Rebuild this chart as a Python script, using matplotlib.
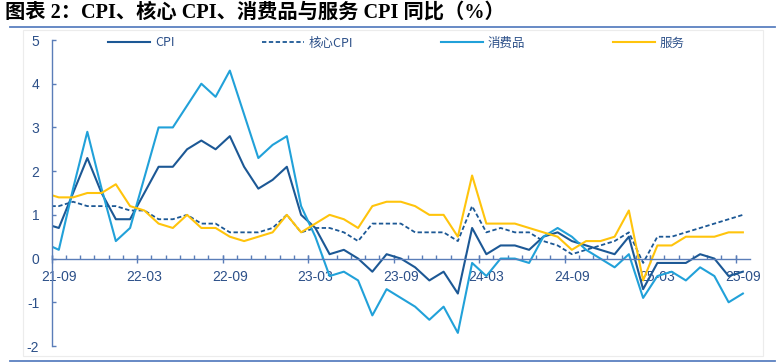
import matplotlib
matplotlib.use('Agg')
import matplotlib.pyplot as plt
from matplotlib.patches import Rectangle
from matplotlib.lines import Line2D
import pandas as pd

# ---- data: monthly, 2021-08 .. 2025-09 (year-on-year %, ) ----
months = [p.strftime('%y-%m') for p in pd.period_range('2021-08', '2025-09', freq='M')]

cpi = [0.8, 0.7, 1.5, 2.3, 1.5,
       0.9, 0.9, 1.5, 2.1, 2.1, 2.5, 2.7, 2.5, 2.8, 2.1, 1.6, 1.8,
       2.1, 1.0, 0.7, 0.1, 0.2, 0.0, -0.3, 0.1, 0.0, -0.2, -0.5, -0.3,
       -0.8, 0.7, 0.1, 0.3, 0.3, 0.2, 0.5, 0.6, 0.4, 0.3, 0.2, 0.1,
       0.5, -0.7, -0.1, -0.1, -0.1, 0.1, 0.0, -0.4, -0.3]

core_cpi = [1.2, 1.2, 1.3, 1.2, 1.2,
            1.2, 1.1, 1.1, 0.9, 0.9, 1.0, 0.8, 0.8, 0.6, 0.6, 0.6, 0.7,
            1.0, 0.6, 0.7, 0.7, 0.6, 0.4, 0.8, 0.8, 0.8, 0.6, 0.6, 0.6,
            0.4, 1.2, 0.6, 0.7, 0.6, 0.6, 0.4, 0.3, 0.1, 0.2, 0.3, 0.4,
            0.6, -0.1, 0.5, 0.5, 0.6, 0.7, 0.8, 0.9, 1.0]

goods = [0.35, 0.2, 1.6, 2.9, 1.6,
         0.4, 0.7, 1.85, 3.0, 3.0, 3.5, 4.0, 3.7, 4.3, 3.3, 2.3, 2.6,
         2.8, 1.2, 0.5, -0.4, -0.3, -0.5, -1.3, -0.7, -0.9, -1.1, -1.4, -1.1,
         -1.7, -0.1, -0.4, 0.0, 0.0, -0.1, 0.5, 0.7, 0.5, 0.2, 0.0, -0.2,
         0.1, -0.9, -0.4, -0.3, -0.5, -0.2, -0.4, -1.0, -0.8]

services = [1.5, 1.4, 1.4, 1.5, 1.5,
            1.7, 1.2, 1.1, 0.8, 0.7, 1.0, 0.7, 0.7, 0.5, 0.4, 0.5, 0.6,
            1.0, 0.6, 0.8, 1.0, 0.9, 0.7, 1.2, 1.3, 1.3, 1.2, 1.0, 1.0,
            0.5, 1.9, 0.8, 0.8, 0.8, 0.7, 0.6, 0.5, 0.2, 0.4, 0.4, 0.5,
            1.1, -0.5, 0.3, 0.3, 0.5, 0.5, 0.5, 0.6, 0.6]

tick_labels = ['21-09', '22-03', '22-09', '23-03', '23-09', '24-03', '24-09', '25-03', '25-09']
series_names = ['CPI', '核心CPI', '消费品', '服务']
y_ticks = [-2, -1, 0, 1, 2, 3, 4, 5]

# ---- style ----
C_CPI = '#1c5895'
C_GOODS = '#21a1d9'
C_SERV = '#ffc40c'
C_AXIS = '#5a7db8'
C_TXT = '#2c5089'
NUM_FONT = ['Liberation Sans Narrow', 'Liberation Sans', 'DejaVu Sans']
CJK_FONT = ['Noto Sans CJK SC', 'DejaVu Sans']

W, H = 784, 364
fig = plt.figure(figsize=(W / 100, H / 100), dpi=100)

# decorations: title, rules, faint frame
fig.text(5 / W, 1 - 13 / H, '图表 2：CPI、核心 CPI、消费品与服务 CPI 同比（%）',
         fontsize=14.6, fontweight='bold', family=['Liberation Serif', 'Noto Sans CJK SC'],
         va='center', ha='left', color='black')
fig.add_artist(Line2D([10 / W, 775 / W], [1 - 27 / H, 1 - 27 / H], color='#5b80c0', lw=1.3,
                      transform=fig.transFigure))
fig.add_artist(Line2D([10 / W, 775 / W], [1 - 361 / H, 1 - 361 / H], color='#5b80c0', lw=1.3,
                      transform=fig.transFigure))
fig.add_artist(Rectangle((23 / W, 1 - 356 / H), (763 - 23) / W, (356 - 30) / H, fill=False,
                         ec='#ececec', lw=0.8, transform=fig.transFigure))

ax = fig.add_axes([51.7 / W, 1 - 346 / H, (750 - 51.7) / W, (346 - 40) / H])
x = list(range(len(months)))

l1, = ax.plot(x, cpi, color=C_CPI, lw=1.5)
l2, = ax.plot(x, core_cpi, color=C_CPI, lw=1.3, linestyle=(0, (2.4, 1.4)))
l3, = ax.plot(x, goods, color=C_GOODS, lw=1.5)
l4, = ax.plot(x, services, color=C_SERV, lw=1.5)

ax.set_xlim(0.5, len(months) - 0.5)
ax.set_ylim(-2, 5)

for s in ['top', 'right']:
    ax.spines[s].set_visible(False)
ax.spines['bottom'].set_position(('data', 0))
ax.spines['bottom'].set_color(C_AXIS)
ax.spines['left'].set_color(C_AXIS)
ax.spines['bottom'].set_linewidth(1.0)
ax.spines['left'].set_linewidth(1.0)

# y axis
ax.set_yticks(y_ticks)
ax.set_yticklabels([str(v) for v in y_ticks])
ax.tick_params(axis='y', direction='in', length=2.6, width=1.0, color=C_AXIS,
               labelcolor=C_TXT, labelsize=10, pad=9)

# x axis: labels at months, small ticks at month boundaries
label_pos = [months.index(t) for t in tick_labels]
ax.set_xticks(label_pos)
ax.set_xticklabels(tick_labels)
ax.set_xticks([i + 0.5 for i in range(len(months) - 1)], minor=True)
ax.tick_params(axis='x', which='major', length=0, labelcolor=C_TXT, labelsize=10, pad=8)
ax.tick_params(axis='x', which='minor', direction='in', length=2.6, width=1.0, color=C_AXIS)
for lab in ax.get_xticklabels() + ax.get_yticklabels():
    lab.set_family(NUM_FONT)

# longer crossing ticks every 6 months
sec = ax.secondary_xaxis(2 / 7)
sec.set_xticks([p - 0.5 for p in label_pos])
sec.tick_params(axis='x', direction='inout', length=6, width=1.0, color=C_AXIS, labelbottom=False,
                labeltop=False, labelsize=0)
sec.set_xticklabels([])
for s in sec.spines.values():
    s.set_visible(False)

leg = fig.legend([l1, l2, l3, l4], series_names, ncol=4, loc='center left',
                 bbox_to_anchor=(108 / W, 1 - 43 / H), frameon=False, borderaxespad=0,
                 borderpad=0, handlelength=3.36, handletextpad=0.4, columnspacing=7.0,
                 prop={'family': CJK_FONT, 'size': 9})
for t in leg.get_texts():
    t.set_color(C_TXT)

fig.savefig('out.png', dpi=100)
